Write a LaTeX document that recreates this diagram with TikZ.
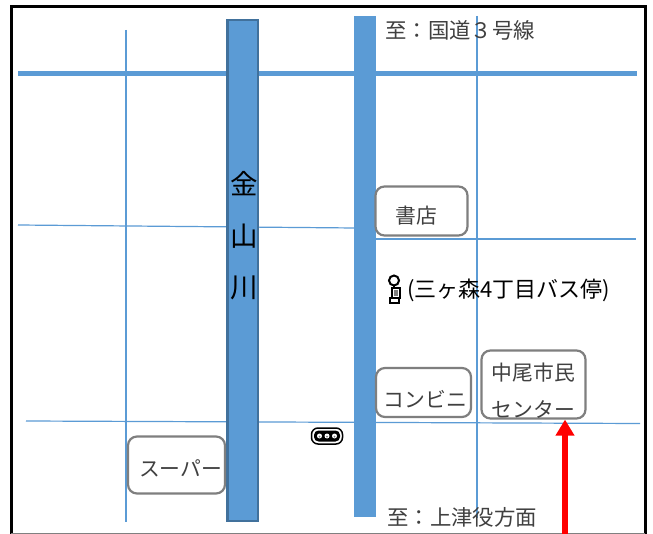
\documentclass[tikz,border=0pt]{standalone}
\usepackage{fontspec}
\setmainfont{Noto Sans CJK JP}
\usetikzlibrary{arrows.meta}
\definecolor{roadblue}{HTML}{5B9BD5}
\definecolor{rivedge}{HTML}{41719C}
\definecolor{boxgray}{HTML}{7F7F7F}
\definecolor{txt}{HTML}{404040}
\newcommand{\shifted}[3]{\hspace*{#1pt}\smash{\raisebox{#2pt}{#3}}\hspace*{-#1pt}}
\tikzset{
 thinroad/.style={draw=roadblue,line width=1.2pt},
 thickroad/.style={draw=roadblue,line width=5pt},
 place/.style={draw=boxgray,line width=2.2pt,rounded corners=9pt,fill=white,text=txt,font=\fontsize{20.8}{24}\selectfont,inner sep=0pt,align=center},
 lab/.style={text=txt,font=\fontsize{21.4}{24}\selectfont,inner sep=0pt},
 rivertext/.style={text=black,font=\fontsize{27.5}{30}\selectfont,inner sep=0pt},
}
\begin{document}
\begin{tikzpicture}[x=1pt,y=-1pt]
\useasboundingbox (0,0) rectangle (653,534);
\fill[white] (0,0) rectangle (653,534);
% frame
\draw[black,line width=3pt] (11,534) -- (11,7) -- (645,7) -- (645,534);
\draw[gray,line width=1pt] (11,533.5) -- (645,533.5);
% thin roads
\draw[thinroad] (126,30) -- (126,522);
\draw[thinroad] (477,16) -- (477,518);
\draw[thinroad] (18,225) -- (355,228);
\draw[thinroad] (376,239) -- (636,239);
\draw[thinroad] (26,421) -- (640,423.5);
% thick roads
\draw[thickroad] (18,73.5) -- (637,73.5);
\fill[roadblue] (354,16) rectangle (376,517);
% river
\draw[fill=roadblue,draw=rivedge,line width=2.6pt] (227.5,20) rectangle (258,521);
\node[rivertext] (r1) at (244,184) {金};
\node[rivertext] (r2) at (244,236) {山};
\node[rivertext] (r3) at (244,288) {川};
% labels
\node[lab,anchor=west] (north) at (385,30) {至：国道３号線};
\node[lab,anchor=west] (south) at (387,517) {至：上津役方面};
\node[lab,anchor=west,text=black,font=\fontsize{22}{24}\selectfont] (busstop) at (407,290.5) {(三ヶ森4丁目バス停)};
% places
\node[place,minimum width=92pt,minimum height=49pt] (book) at (421.5,211) {\shifted{-5}{-13}{書店}};
\node[place,minimum width=95pt,minimum height=49pt] (conv) at (423.5,392.5) {\shifted{2}{-14.5}{コンビニ}};
\node[place,minimum width=104pt,minimum height=68pt] (center) at (533.5,384.5) {\shifted{0}{-14}{中尾市民}\\[13pt]\shifted{0}{-14}{センター}};
\node[place,minimum width=97pt,minimum height=57pt] (super) at (176.5,465) {\shifted{4}{-11}{スーパー}};
% bus stop icon
\begin{scope}[line width=2pt,draw=black]
\draw[fill=white] (394,280.5) circle (5);
\draw (394,285.5) -- (394,288);
\draw[fill=white] (391.5,288) rectangle (400,298);
\fill[gray] (394,290.5) rectangle (398,296);
\draw[fill=white] (390,298) rectangle (398.5,303);
\end{scope}
% signal icon
\draw[black,line width=1.5pt,fill=white,rounded corners=6.5pt] (311.5,428) rectangle (342.5,444);
\fill[black,rounded corners=4.5pt] (314,430.5) rectangle (340,441.5);
\foreach \cx in {319.5,327,334.5}{\fill[white] (\cx,436) circle (2.5);\fill[gray] (\cx,436.6) circle (1);}
% arrow
\coordinate (arrowstart) at (565,534);
\draw[red,line width=6pt,-{Triangle[length=16pt,width=18pt]}] (arrowstart) -- (center.south -| arrowstart);
\end{tikzpicture}
\end{document}
